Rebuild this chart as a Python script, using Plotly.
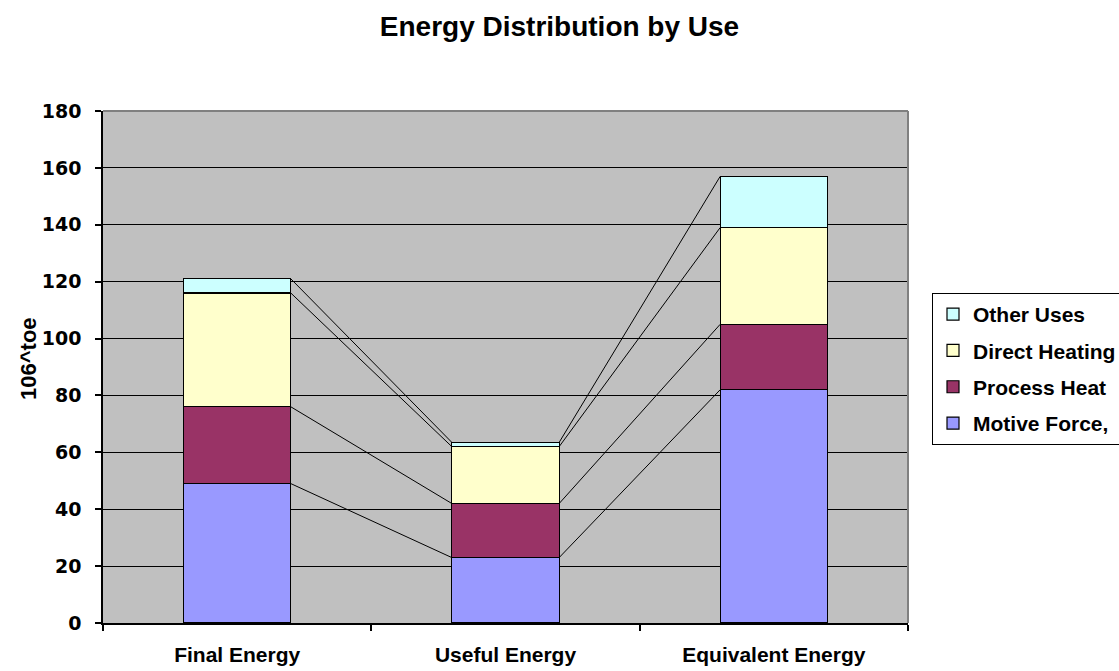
import numpy as np
import plotly.graph_objects as go

# Stacked energy by use, in 10^6 toe
categories = ["Final Energy", "Useful Energy", "Equivalent Energy"]
series_names = ["Motive Force,", "Process Heat", "Direct Heating", "Other Uses"]
motive_force = [49, 23, 82]
process_heat = [27, 19, 23]
direct_heating = [40, 20, 34]
other_uses = [5, 1.5, 18]
colors = ["#9999FF", "#993366", "#FFFFCC", "#CCFFFF"]
y_ticks = [0, 20, 40, 60, 80, 100, 120, 140, 160, 180]

series_values = [motive_force, process_heat, direct_heating, other_uses]
x_pos = np.arange(len(categories))
bar_width = 0.4
n_series = len(series_names)

fig = go.Figure()
for i, (name, vals, col) in enumerate(zip(series_names, series_values, colors)):
    fig.add_trace(go.Bar(
        x=x_pos, y=vals, name=name, width=bar_width,
        marker=dict(color=col, line=dict(color="black", width=1.2)),
        legendgroup=name, legendrank=n_series - i,
    ))

# Series lines joining the top of each stacked segment across neighbouring bars
cum = np.cumsum(np.array(series_values, dtype=float), axis=0)
for level in cum:
    xs, ys = [], []
    for j in range(len(categories) - 1):
        xs += [x_pos[j] + bar_width / 2, x_pos[j + 1] - bar_width / 2, None]
        ys += [level[j], level[j + 1], None]
    fig.add_trace(go.Scatter(x=xs, y=ys, mode="lines", line=dict(color="black", width=1),
                             showlegend=False, hoverinfo="skip"))

fig.update_layout(
    width=1119, height=671,
    barmode="stack",
    paper_bgcolor="white",
    plot_bgcolor="#C0C0C0",
    margin=dict(l=103, r=211, t=111, b=48, autoexpand=False),
    title=dict(text="Energy Distribution by Use", x=0.5, xref="container",
               y=1 - 26 / 671, yref="container", xanchor="center", yanchor="middle",
               font=dict(family="Liberation Sans, Arial, sans-serif", size=28, color="black", weight="bold")),
    legend=dict(x=(932 - 103) / 805, xanchor="left", y=(623 - 293) / 512, yanchor="top",
                bgcolor="white", bordercolor="black", borderwidth=1,
                traceorder="grouped", tracegroupgap=6,
                font=dict(family="Liberation Sans, Arial, sans-serif", size=21, color="black", weight="bold"),
                itemwidth=30),
    showlegend=True,
)

fig.update_xaxes(
    range=[-0.5, 2.5], tickmode="array", tickvals=list(x_pos), ticktext=categories,
    ticks="", showgrid=False, zeroline=False,
    showline=True, linecolor="black", linewidth=1.5,
    tickfont=dict(family="Liberation Sans, Arial, sans-serif", size=21, color="black", weight="bold"),
    ticklabelstandoff=12,
    minor=dict(tickmode="array", tickvals=[-0.5, 0.5, 1.5, 2.5], ticks="outside",
               ticklen=6, tickcolor="black", tickwidth=1.5, showgrid=False),
)
fig.update_yaxes(
    range=[0, 180], tickmode="array", tickvals=y_ticks,
    ticks="outside", ticklen=6, tickcolor="black", tickwidth=1.5,
    showgrid=True, gridcolor="black", gridwidth=1.2, zeroline=False,
    showline=True, linecolor="black", linewidth=1.5,
    tickfont=dict(family="DejaVu Sans, sans-serif", size=19, color="black", weight="bold"),
    ticklabelstandoff=10,
)

# Grey frame on the top and right of the plotting area
fig.add_shape(type="line", xref="paper", yref="paper", x0=0, x1=1, y0=1, y1=1,
              line=dict(color="#808080", width=2))
fig.add_shape(type="line", xref="paper", yref="paper", x0=1, x1=1, y0=0, y1=1,
              line=dict(color="#808080", width=2))

# Vertical axis title
fig.add_annotation(text="106^toe", xref="paper", yref="paper",
                   x=(28 - 103) / 805, y=(623 - 359) / 512, textangle=-90,
                   showarrow=False, xanchor="center", yanchor="middle",
                   font=dict(family="Liberation Sans, Arial, sans-serif", size=22, color="black", weight="bold"))

fig.write_html("out.html")
